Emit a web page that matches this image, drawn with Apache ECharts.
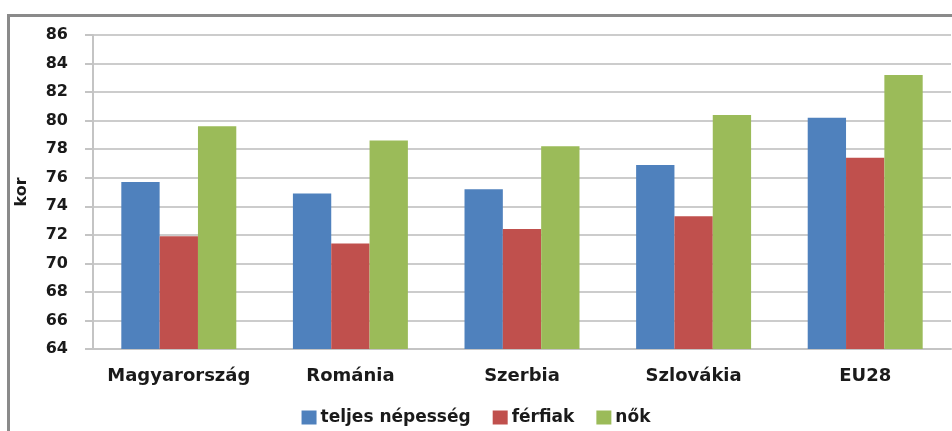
<!DOCTYPE html>
<html>
<head>
<meta charset="utf-8">
<script src="https://cdn.jsdelivr.net/npm/echarts@6/dist/echarts.min.js"></script>
<style>
html,body{margin:0;padding:0;background:#fff;}
#main{width:952px;height:431px;}
</style>
</head>
<body>
<div id="main"></div>
<script>
var categories = ['Magyarország', 'Románia', 'Szerbia', 'Szlovákia', 'EU28'];
var seriesNames = ['teljes népesség', 'férfiak', 'nők'];
var teljes = [75.7, 74.9, 75.2, 76.9, 80.2];
var ferfiak = [71.9, 71.4, 72.4, 73.3, 77.4];
var nok = [79.6, 78.6, 78.2, 80.4, 83.2];
var yMin = 64, yMax = 86, yStep = 2;
var colors = ['#4F81BD', '#C0504D', '#9BBB59'];

var font = 'DejaVu Sans';
var chart = echarts.init(document.getElementById('main'), null, {renderer: 'canvas'});
var values = [teljes, ferfiak, nok];
chart.setOption({
  animation: false,
  backgroundColor: '#ffffff',
  color: colors,
  graphic: [{
    type: 'rect',
    shape: {x: 8.5, y: 15.5, width: 1000, height: 500},
    style: {fill: 'none', stroke: '#8a8a8a', lineWidth: 3},
    z: -1
  }],
  grid: {left: 93, right: 1, top: 35, bottom: 82},
  legend: {
    data: seriesNames,
    left: 'center',
    top: 404,
    itemWidth: 15,
    itemHeight: 14,
    itemGap: 22,
    icon: 'rect',
    textStyle: {fontFamily: font, fontWeight: 'bold', fontSize: 17, color: '#1a1a1a', padding: [0, 0, 0, -1]}
  },
  xAxis: {
    type: 'category',
    data: categories,
    axisLine: {show: true, lineStyle: {color: '#c4c4c4', width: 2}},
    axisTick: {show: false},
    axisLabel: {interval: 0, fontFamily: font, fontWeight: 'bold', fontSize: 18, color: '#1a1a1a', margin: 18}
  },
  yAxis: {
    type: 'value',
    min: yMin, max: yMax, interval: yStep,
    name: 'kor',
    nameLocation: 'middle',
    nameGap: 63,
    nameTextStyle: {fontFamily: font, fontWeight: 'bold', fontSize: 16, color: '#1a1a1a'},
    axisLine: {show: true, lineStyle: {color: '#c4c4c4', width: 2}},
    axisTick: {show: true, length: 8, lineStyle: {color: '#c4c4c4', width: 2}},
    splitLine: {show: true, lineStyle: {color: '#cccccc', width: 2}},
    axisLabel: {fontFamily: font, fontWeight: 'bold', fontSize: 16, color: '#1a1a1a', margin: 25}
  },
  series: seriesNames.map(function (n, i) {
    return {
      name: n,
      type: 'bar',
      data: values[i],
      barGap: '0%',
      barCategoryGap: '33%',
      itemStyle: {color: colors[i]}
    };
  })
});
</script>
</body>
</html>
